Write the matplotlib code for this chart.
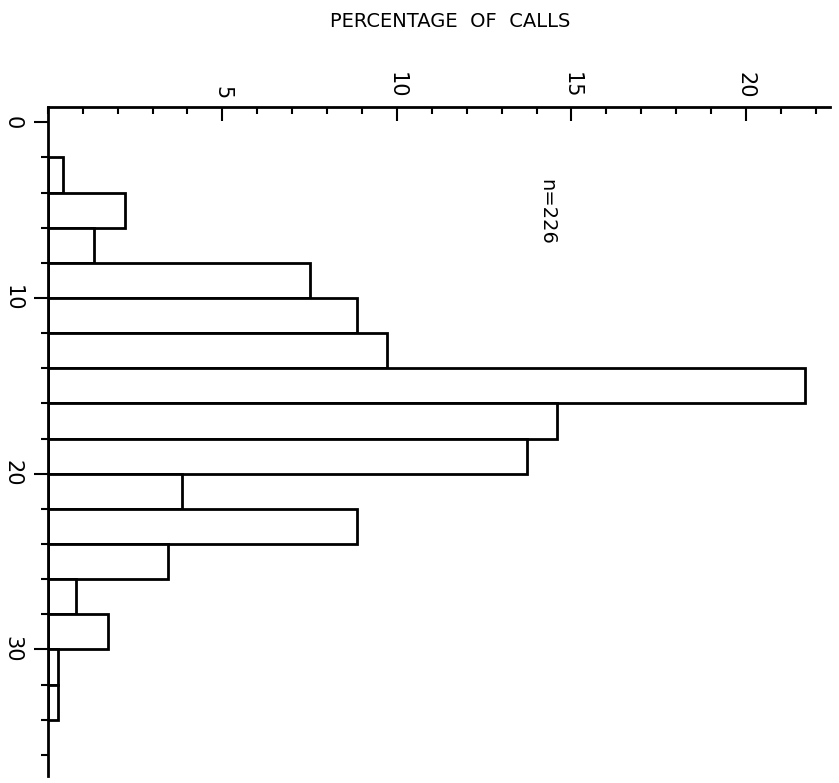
import numpy as np
import matplotlib.pyplot as plt
from matplotlib.ticker import MultipleLocator

# call duration bins (lower edges) and percentage of calls
bin_start = [2, 4, 6, 8, 10, 12, 14, 16, 18, 20, 22, 24, 26, 28, 30, 32]
percent = [0.44, 2.21, 1.33, 7.52, 8.85, 9.73, 21.68, 14.6, 13.72, 3.85, 8.85, 3.45, 0.8, 1.72, 0.3, 0.3]
bin_width = 2
n_calls = 226

fig = plt.figure(figsize=(8.39, 7.83), dpi=100)
ax = fig.add_axes([0.057, 0.009, 0.932, 0.854])

ax.barh(bin_start, percent, height=bin_width, align="edge",
	color="white", edgecolor="black", linewidth=2)

ax.set_xlim(0, 22.4)
ax.set_ylim(37.2, -0.85)

ax.spines["right"].set_visible(False)
ax.spines["bottom"].set_visible(False)
ax.spines["left"].set_linewidth(2)
ax.spines["top"].set_linewidth(2)

ax.xaxis.tick_top()
ax.xaxis.set_major_locator(MultipleLocator(5))
ax.xaxis.set_minor_locator(MultipleLocator(1))
ax.set_xticks([5, 10, 15, 20])
ax.tick_params(axis="x", which="major", direction="in", length=10, width=1.5, pad=6, labelsize=15, labelrotation=-90)
ax.tick_params(axis="x", which="minor", direction="in", length=5, width=1.5)

ax.yaxis.set_major_locator(MultipleLocator(10))
ax.yaxis.set_minor_locator(MultipleLocator(2))
ax.tick_params(axis="y", which="major", direction="out", length=10, width=1.5, pad=8, labelsize=15, labelrotation=-90)
ax.tick_params(axis="y", which="minor", direction="out", length=5, width=1.5)
for lab in ax.get_yticklabels():
	lab.set_verticalalignment("center")

ax.text(14.3, 5.1, f"n={n_calls}", rotation=-90, ha="center", va="center", fontsize=14)

fig.text(0.537, 0.972, "PERCENTAGE  OF  CALLS", ha="center", va="center", fontsize=14)

if __name__ == "__main__":
	plt.savefig("out.png", dpi=100)
